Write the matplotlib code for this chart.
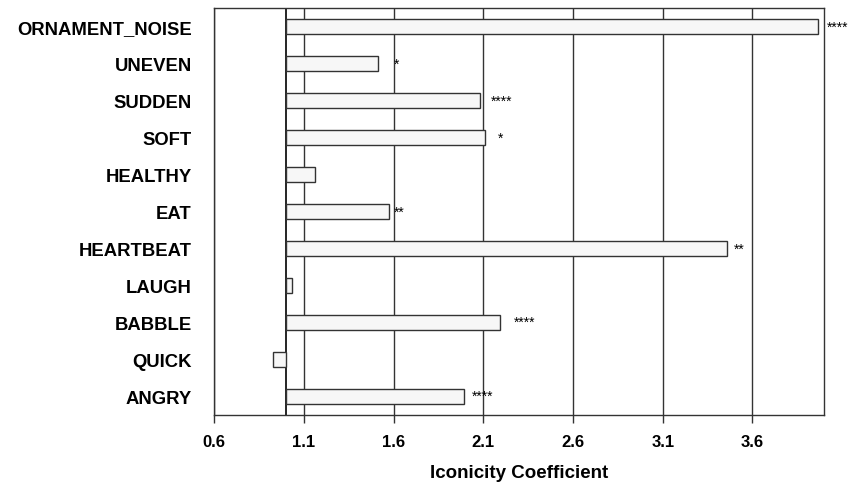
import matplotlib.pyplot as plt

plt.rcParams['font.family'] = ['Liberation Sans', 'DejaVu Sans']

# categories top to bottom as in the chart
categories = ['ORNAMENT_NOISE', 'UNEVEN', 'SUDDEN', 'SOFT', 'HEALTHY', 'EAT',
              'HEARTBEAT', 'LAUGH', 'BABBLE', 'QUICK', 'ANGRY']
coefficients = [3.965, 1.514, 2.081, 2.111, 1.163, 1.573,
                3.457, 1.035, 2.196, 0.926, 1.992]
significance = ['****', '*', '****', '*', '', '**', '**', '', '****', '', '****']
x_ticks = [0.6, 1.1, 1.6, 2.1, 2.6, 3.1, 3.6]

baseline = 1.0
# gap between bar end and asterisks, in points (varies in the original)
sig_gap = [6.5, 11.5, 7.7, 8.9, 0, 3.8, 4.8, 0, 9.4, 0, 5.8]

fig = plt.figure(figsize=(8.51, 4.89), dpi=100)
ax = fig.add_axes([0.2515, 0.1499, 0.9686 - 0.2515, 0.9816 - 0.1499])

n = len(categories)
ypos = [n - 1 - i for i in range(n)]
widths = [c - baseline for c in coefficients]

for x in x_ticks:
    ax.axvline(x, color='#333333', lw=1.0, zorder=0)
ax.axvline(baseline, color='black', lw=1.2, zorder=1)

ax.barh(ypos, widths, left=baseline, height=0.4, color='#f7f7f7',
        edgecolor='#333333', linewidth=1.0, zorder=2)

for y, c, s, g in zip(ypos, coefficients, significance, sig_gap):
    if s:
        ax.annotate(s, xy=(c, y), xytext=(g, 0), textcoords='offset points',
                    ha='left', va='center', fontsize=10, annotation_clip=False)

ax.set_xlim(0.6, 4.0)
ax.set_ylim(-0.5, n - 0.5)
ax.set_xticks(x_ticks)
ax.set_xticklabels([f'{t:.1f}' for t in x_ticks], fontsize=12, fontweight='bold')
ax.set_yticks(ypos)
ax.set_yticklabels(categories, fontsize=13.3, fontweight='bold')
ax.tick_params(axis='y', length=0, pad=16)
ax.tick_params(axis='x', length=6, width=1, color='#333333', pad=8)
for sp in ax.spines.values():
    sp.set_color('#333333')
    sp.set_linewidth(1.0)

ax.set_xlabel('Iconicity Coefficient', fontsize=13.5, fontweight='bold', labelpad=11)

fig.savefig('out.png', dpi=100)
